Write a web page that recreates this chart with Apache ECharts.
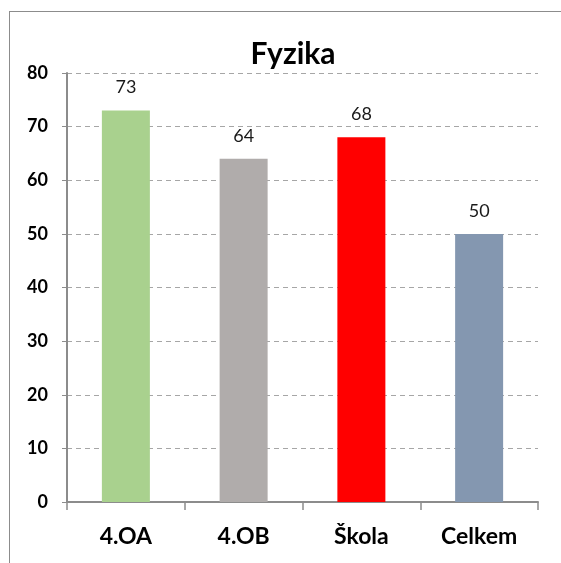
<!DOCTYPE html>
<html>
<head>
<meta charset="utf-8">
<script src="https://cdn.jsdelivr.net/npm/echarts@6/dist/echarts.min.js"></script>
<style>
  html, body { margin: 0; padding: 0; background: #fff; overflow: hidden; width: 561px; height: 563px; }
  #frame { position: absolute; left: 9px; top: 11px; width: 552px; height: 552px; border-left: 1.5px solid #8c8c8c; border-top: 1.5px solid #8c8c8c; box-sizing: border-box; }
  #chart { position: absolute; left: 0; top: 0; width: 561px; height: 563px; }
</style>
</head>
<body>
<div id="frame"></div>
<div id="chart"></div>
<script>
// data
const categories = ['4.OA', '4.OB', 'Škola', 'Celkem'];
const values = [73, 64, 68, 50];
const barColors = ['#a9d18e', '#b0acab', '#ff0000', '#8497b0'];
const yTicks = [0, 10, 20, 30, 40, 50, 60, 70, 80];

const chart = echarts.init(document.getElementById('chart'));
const options = {
  animation: false,
  title: {
    text: 'Fyzika',
    left: 288,
    top: 34,
    textAlign: 'center',
    textStyle: { fontFamily: 'Lato', fontWeight: 'bold', fontSize: 30, color: '#000' }
  },
  grid: { left: 67, right: 23, top: 73, bottom: 61, containLabel: false },
  xAxis: {
    type: 'category',
    data: categories,
    axisLine: { lineStyle: { color: '#8c8c8c', width: 2 } },
    axisTick: { show: true, length: 8, lineStyle: { color: '#8c8c8c', width: 1.5 } },
    axisLabel: { margin: 23, fontFamily: 'Lato', fontWeight: 'bold', fontSize: 23, color: '#000' }
  },
  yAxis: {
    type: 'value',
    min: yTicks[0],
    max: yTicks[yTicks.length - 1],
    interval: 10,
    axisLine: { show: true, lineStyle: { color: '#8c8c8c', width: 2 } },
    axisTick: { show: true, length: 5, lineStyle: { color: '#8c8c8c', width: 1 } },
    axisLabel: { margin: 19, fontFamily: 'Lato', fontWeight: 'bold', fontSize: 18, color: '#000' },
    splitLine: { show: true, lineStyle: { color: '#a6a6a6', type: [5, 4], width: 1 } }
  },
  series: [{
    type: 'bar',
    data: values.map((v, i) => ({ value: v, itemStyle: { color: barColors[i] } })),
    barWidth: 48,
    label: {
      show: true,
      position: 'top',
      distance: 14,
      fontFamily: 'Lato',
      fontSize: 18,
      color: '#1a1a1a'
    }
  }]
};
chart.setOption(options);
</script>
</body>
</html>
